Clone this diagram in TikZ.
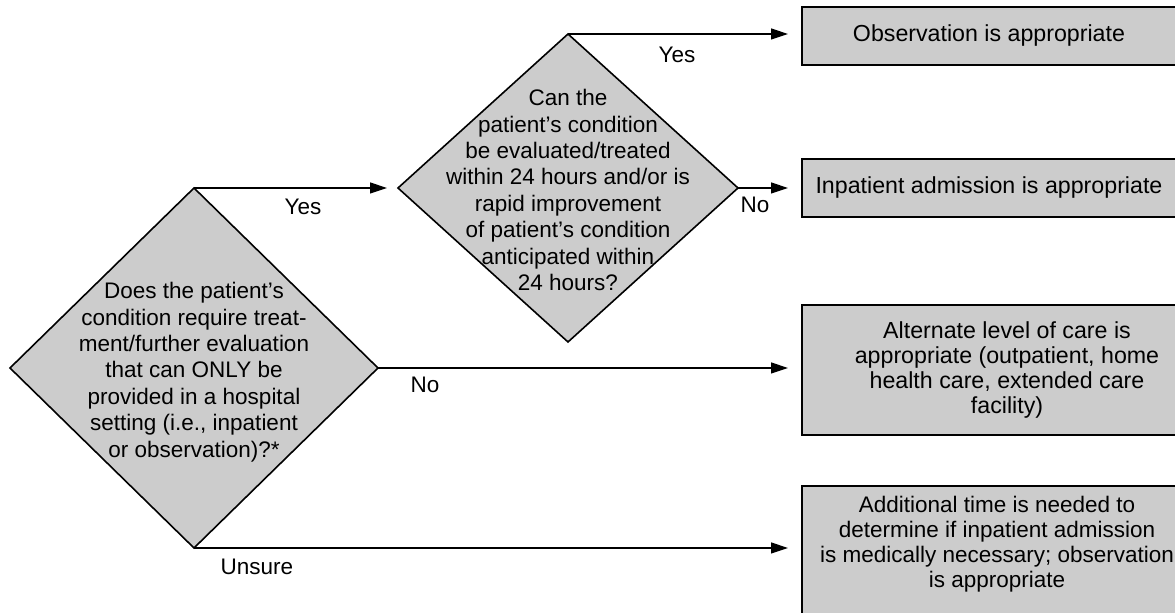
\documentclass[tikz,border=0pt]{standalone}
\usepackage{fontspec}
\setmainfont{Liberation Sans}
\usetikzlibrary{arrows.meta,shapes.geometric}
\definecolor{fillgray}{HTML}{CCCCCC}
\begin{document}
\begin{tikzpicture}[x=0.5pt,y=-0.5pt,
  every node/.style={font=\fontsize{11.25}{13.2}\selectfont},
  decision/.style={draw, diamond, fill=fillgray, line width=0.8pt, inner sep=0pt, outer sep=0pt, shape aspect=1},
  dtext/.style={align=center},
  outcome/.style={draw, rectangle, fill=fillgray, line width=1.3pt, inner sep=0pt, outer sep=0pt, anchor=north west, align=center, font=\fontsize{11.6}{12.4}\selectfont},
  conn/.style={line width=0.6pt, -{Triangle[length=8.5pt,width=5.5pt]}},
  lbl/.style={inner sep=0pt}
]
\useasboundingbox (0,0) rectangle (1175,613);

% decisions
\node[decision, minimum width=184pt, minimum height=180pt] (d1) at (194,368) {};
\node[dtext] (t1) at (194,372) {Does the patient’s\\condition require treat-\\ment/further evaluation\\that can ONLY be\\provided in a hospital\\setting (i.e., inpatient\\or observation)?*};

\node[decision, minimum width=170pt, minimum height=154pt] (d2) at (568,188) {};
\node[dtext] (t2) at (568,190) {Can the\\patient’s condition\\be evaluated/treated\\within 24 hours and/or is\\rapid improvement\\of patient’s condition\\anticipated within\\24 hours?};

% outcomes
\node[outcome, minimum width=187pt, minimum height=29pt] (b1) at (802,7) {Observation is appropriate};
\node[outcome, minimum width=187pt, minimum height=29pt] (b2) at (802,159) {Inpatient admission is appropriate};
\node[outcome, minimum width=205pt, minimum height=65pt] (b3) at (802,305) {Alternate level of care is\\appropriate (outpatient, home\\health care, extended care\\facility)};
\node[outcome, minimum width=211pt, minimum height=70pt] (b4) at (802,486) {};
\node[align=center, font=\fontsize{11.25}{12.4}\selectfont] (t4) at (997,544) {Additional time is needed to\\determine if inpatient admission\\is medically necessary; observation\\is appropriate};

% connectors
\draw[conn, shorten >=5.5pt] (d1.north) -- (d2.west);
\draw[conn, shorten >=7pt] (d2.north) -- (d2.north -| b1.west);
\draw[conn, shorten >=7pt] (d2.east) -- (d2.east -| b2.west);
\draw[conn, shorten >=7pt] (d1.east) -- (d1.east -| b3.west);
\draw[conn, shorten >=7pt] (d1.south) -- (d1.south -| b4.west);

% labels
\node[lbl] (lyes1) at (303,207) {Yes};
\node[lbl] (lyes2) at (677,55) {Yes};
\node[lbl] (lno1) at (755,205) {No};
\node[lbl] (lno2) at (425,385) {No};
\node[lbl] (lunsure) at (257,567) {Unsure};
\end{tikzpicture}
\end{document}
